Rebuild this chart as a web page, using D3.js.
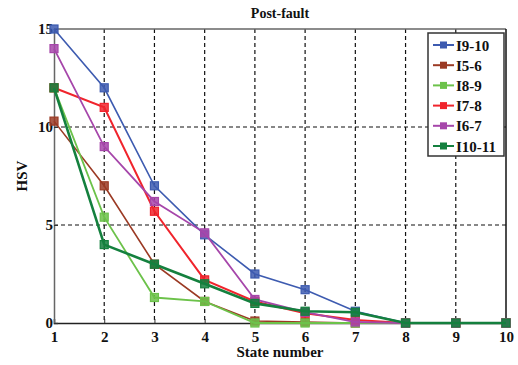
<!DOCTYPE html>
<html>
<head>
<meta charset="utf-8">
<script src="https://cdn.jsdelivr.net/npm/d3@7"></script>
<style>
  body { margin: 0; background: #fff; }
  text { font-family: "Liberation Serif", "Times New Roman", serif; font-weight: bold; fill: #111; }
</style>
</head>
<body>
<div id="chart"></div>
<script>
// Data
const states = [1, 2, 3, 4, 5, 6, 7, 8, 9, 10];
const i910 = [15, 12, 7, 4.5, 2.5, 1.7, 0.6, 0, 0, 0];
const i56 = [10.3, 7, 3, 1.1, 0.1, 0.05, 0, 0, 0, 0];
const i89 = [12, 5.4, 1.3, 1.1, 0, 0, 0, 0, 0, 0];
const i78 = [12, 11, 5.7, 2.2, 1.1, 0.5, 0.15, 0, 0, 0];
const i67 = [14, 9, 6.2, 4.6, 1.2, 0.55, 0.05, 0, 0, 0];
const i1011 = [12, 4, 3, 2, 1, 0.6, 0.55, 0, 0, 0];
const seriesNames = ["I9-10", "I5-6", "I8-9", "I7-8", "I6-7", "I10-11"];
const yTicks = [0, 5, 10, 15];

const series = [
    { name: seriesNames[0], values: i910, color: "#3d5bb0", width: 1.6 },
    { name: seriesNames[1], values: i56, color: "#9b3a24", width: 1.6 },
    { name: seriesNames[2], values: i89, color: "#6cc24a", width: 1.8 },
    { name: seriesNames[3], values: i78, color: "#f0242c", width: 2 },
    { name: seriesNames[4], values: i67, color: "#a646aa", width: 1.8 },
    { name: seriesNames[5], values: i1011, color: "#14803e", width: 2.6 }
];

const margin = { top: 29, right: 12, bottom: 42, left: 54 };
const W = 518, H = 365;
const width = W - margin.left - margin.right;
const height = H - margin.top - margin.bottom;

const svg = d3.select("#chart").append("svg")
    .attr("width", W)
    .attr("height", H);

const chart = svg.append("g")
    .attr("transform", `translate(${margin.left},${margin.top})`);

// Scales
const x = d3.scaleLinear().domain([1, 10]).range([0, width]);
const y = d3.scaleLinear().domain([0, 15]).range([height, 0]);

// Grid
chart.append("g")
    .selectAll("line")
    .data(states.slice(1, -1))
    .join("line")
    .attr("x1", d => x(d)).attr("x2", d => x(d))
    .attr("y1", 0).attr("y2", height)
    .attr("stroke", "#111").attr("stroke-width", 1.2)
    .attr("stroke-dasharray", "4,3");

chart.append("g")
    .selectAll("line")
    .data(yTicks.slice(1, -1))
    .join("line")
    .attr("x1", 0).attr("x2", width)
    .attr("y1", d => y(d)).attr("y2", d => y(d))
    .attr("stroke", "#111").attr("stroke-width", 1.2)
    .attr("stroke-dasharray", "4,3");

// Frame
chart.append("line").attr("x1", 0).attr("x2", width).attr("y1", 0).attr("y2", 0)
    .attr("stroke", "#666").attr("stroke-width", 1.5);
chart.append("line").attr("x1", width).attr("x2", width).attr("y1", 0).attr("y2", height)
    .attr("stroke", "#111").attr("stroke-width", 1.5);

// Axes
const xAxis = chart.append("g")
    .attr("transform", `translate(0,${height})`)
    .call(d3.axisBottom(x).tickValues(states).tickSize(-4).tickPadding(8));

const yAxis = chart.append("g")
    .call(d3.axisLeft(y).tickValues(yTicks).tickSize(-4).tickPadding(3));

xAxis.select(".domain").attr("stroke", "#222").attr("stroke-width", 1.5);
yAxis.select(".domain").attr("stroke", "#666").attr("stroke-width", 1.5);
chart.selectAll(".tick line").attr("stroke", "#333");
chart.selectAll(".tick text")
    .style("font-family", "'Liberation Serif', serif")
    .style("font-weight", "bold")
    .style("font-size", "15px")
    .attr("fill", "#111");
yAxis.selectAll(".tick text").attr("dx", 2);

// Lines and markers
const line = d3.line()
    .x((d, i) => x(states[i]))
    .y(d => y(d));

series.forEach(s => {
    const g = chart.append("g");
    g.append("path")
        .datum(s.values)
        .attr("fill", "none")
        .attr("stroke", s.color)
        .attr("stroke-width", s.width)
        .attr("d", line);
    g.selectAll("rect")
        .data(s.values)
        .join("rect")
        .attr("x", (d, i) => x(states[i]) - 4)
        .attr("y", d => y(d) - 4)
        .attr("width", 8)
        .attr("height", 8)
        .attr("fill", s.color)
        .attr("fill-opacity", 0.85)
        .attr("stroke", s.color)
        .attr("stroke-width", 1.2);
});

// Title and axis labels
svg.append("text")
    .attr("x", margin.left + width / 2)
    .attr("y", 18)
    .attr("text-anchor", "middle")
    .style("font-size", "14px")
    .text("Post-fault");

svg.append("text")
    .attr("x", margin.left + width / 2)
    .attr("y", 357)
    .attr("text-anchor", "middle")
    .style("font-size", "15px")
    .text("State number");

svg.append("text")
    .attr("transform", `translate(27,${margin.top + height / 2}) rotate(-90)`)
    .attr("text-anchor", "middle")
    .style("font-size", "15px")
    .text("HSV");

// Legend
const legend = svg.append("g").attr("transform", "translate(428,33)");
legend.append("rect")
    .attr("width", 76).attr("height", 123)
    .attr("fill", "#fff")
    .attr("stroke", "#333").attr("stroke-width", 1.5);

series.forEach((s, i) => {
    const row = legend.append("g").attr("transform", `translate(0,${12 + i * 20.2})`);
    row.append("line")
        .attr("x1", 5).attr("x2", 26)
        .attr("stroke", s.color).attr("stroke-width", 2);
    row.append("rect")
        .attr("x", 12).attr("y", -3.5).attr("width", 7).attr("height", 7)
        .attr("fill", s.color);
    row.append("text")
        .attr("x", 28).attr("y", 5.5)
        .style("font-size", "15px")
        .text(s.name);
});
</script>
</body>
</html>
